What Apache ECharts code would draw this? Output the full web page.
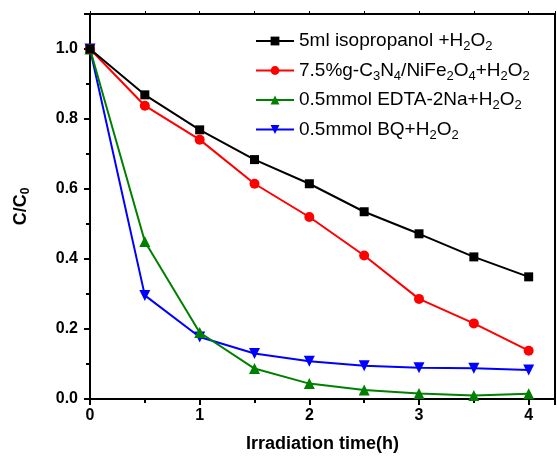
<!DOCTYPE html>
<html><head><meta charset="utf-8">
<script src="https://cdn.jsdelivr.net/npm/echarts@6/dist/echarts.min.js"></script>
<style>html,body{margin:0;padding:0;background:#fff}#c{width:557px;height:462px}</style>
</head><body><div id="c"></div>
<script>
const times = [0, 0.5, 1, 1.5, 2, 2.5, 3, 3.5, 4];
const isopropanol = [1.0, 0.869, 0.769, 0.684, 0.615, 0.535, 0.472, 0.406, 0.349];
const catalyst = [1.0, 0.838, 0.741, 0.615, 0.520, 0.410, 0.286, 0.216, 0.138];
const edta = [1.0, 0.450, 0.190, 0.087, 0.044, 0.026, 0.016, 0.010, 0.015];
const bq = [1.0, 0.296, 0.177, 0.130, 0.108, 0.095, 0.089, 0.088, 0.083];
const seriesNames = ['5ml isopropanol +H{s|2}O{s|2}', '7.5%g-C{s|3}N{s|4}/NiFe{s|2}O{s|4}+H{s|2}O{s|2}', '0.5mmol EDTA-2Na+H{s|2}O{s|2}', '0.5mmol BQ+H{s|2}O{s|2}'];
const xTicks = [0, 1, 2, 3, 4];
const yTicks = [0.0, 0.2, 0.4, 0.6, 0.8, 1.0];

const FONT = '"Liberation Sans", Arial, sans-serif';
const colors = ['#000000', '#ff0000', '#008000', '#0000ff'];
const symbols = ['rect', 'circle', 'triangle', 'path://M0,0 L10,0 L5,9 Z'];
const sizes = [9, 10, 11, 11];
const datasets = [isopropanol, catalyst, edta, bq];

const chart = echarts.init(document.getElementById('c'), null, {renderer: 'canvas'});
const axisLineStyle = {color: '#000', width: 2};
chart.setOption({
  animation: false,
  backgroundColor: '#fff',
  grid: {left: 90, top: 14, right: 2, bottom: 63, containLabel: false},
  legend: {
    left: 255, top: 29, orient: 'vertical', padding: 0,
    itemWidth: 38, itemHeight: 11, itemGap: 5.5,
    data: seriesNames,
    formatter: n => n,
    textStyle: {
      fontFamily: FONT, fontSize: 19, color: '#000', lineHeight: 24,
      rich: {s: {fontFamily: FONT, fontSize: 13, lineHeight: 13, verticalAlign: 'bottom', color: '#000'}}
    }
  },
  xAxis: [{
    type: 'value', min: 0, max: 4.24, interval: 1,
    name: 'Irradiation time(h)', nameLocation: 'middle', nameGap: 36,
    nameTextStyle: {fontFamily: FONT, fontSize: 18, fontWeight: 'bold', color: '#000'},
    axisLine: {show: true, onZero: false, lineStyle: axisLineStyle},
    axisTick: {show: true, inside: false, length: 6, lineStyle: {color: '#000', width: 2}},
    minorTick: {show: true, splitNumber: 2, length: 4, lineStyle: {color: '#000', width: 2}},
    axisLabel: {fontFamily: FONT, fontSize: 16, fontWeight: 'bold', color: '#000', margin: 9,
      showMaxLabel: false,
      formatter: v => xTicks.indexOf(v) >= 0 ? String(v) : ''},
    splitLine: {show: false}
  }, {
    type: 'value', min: 0, max: 4.24, interval: 1, position: 'top',
    axisLine: {show: true, onZero: false, lineStyle: axisLineStyle},
    axisTick: {show: true, inside: false, length: 3, lineStyle: {color: '#000', width: 1}},
    minorTick: {show: true, splitNumber: 2, length: 3, lineStyle: {color: '#000', width: 1}},
    axisLabel: {show: false}, splitLine: {show: false}
  }],
  yAxis: [{
    type: 'value', min: 0, max: 1.1, interval: 0.2,
    name: 'C/C{s|0}', nameLocation: 'middle', nameGap: 58, nameRotate: 90,
    nameTextStyle: {fontFamily: FONT, fontSize: 18, fontWeight: 'bold', color: '#000', lineHeight: 22,
      rich: {s: {fontFamily: FONT, fontSize: 12, fontWeight: 'bold', lineHeight: 12, verticalAlign: 'bottom', color: '#000'}}},
    axisLine: {show: true, onZero: false, lineStyle: axisLineStyle},
    axisTick: {show: true, inside: false, length: 6, lineStyle: {color: '#000', width: 2}},
    minorTick: {show: true, splitNumber: 2, length: 4, lineStyle: {color: '#000', width: 2}},
    axisLabel: {fontFamily: FONT, fontSize: 16, fontWeight: 'bold', color: '#000', margin: 12,
      showMaxLabel: false,
      formatter: v => yTicks.some(t => Math.abs(t - v) < 1e-9) ? v.toFixed(1) : ''},
    splitLine: {show: false}
  }, {
    type: 'value', min: 0, max: 1.1, interval: 0.2, position: 'right',
    axisLine: {show: true, onZero: false, lineStyle: axisLineStyle},
    axisTick: {show: false}, axisLabel: {show: false}, splitLine: {show: false}
  }],
  series: datasets.map((d, i) => ({
    type: 'line', name: seriesNames[i],
    data: times.map((t, j) => [t, d[j]]),
    symbol: symbols[i], symbolSize: sizes[i],
    itemStyle: {color: colors[i]},
    lineStyle: {color: colors[i], width: 2},
    z: 10 - i
  }))
});
</script></body></html>
